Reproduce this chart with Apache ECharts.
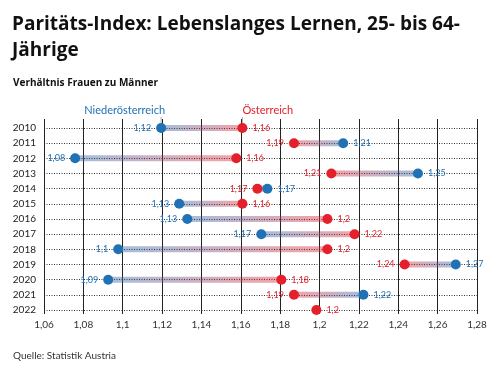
<!DOCTYPE html>
<html>
<head>
<meta charset="utf-8">
<script src="https://cdn.jsdelivr.net/npm/echarts@6/dist/echarts.min.js"></script>
<style>html,body{margin:0;padding:0;background:#fff}#c{width:500px;height:369px}</style>
</head>
<body>
<div id="c"></div>
<script>
const years = ['2010','2011','2012','2013','2014','2015','2016','2017','2018','2019','2020','2021','2022'];
const niederoesterreich = [1.1195,1.212,1.0758,1.250,1.1735,1.1287,1.1328,1.1704,1.0977,1.2692,1.0926,1.2223,null];
const oesterreich = [1.1608,1.187,1.1577,1.206,1.1684,1.1608,1.204,1.2178,1.204,1.2432,1.1806,1.187,1.1984];
const xTicks = {min:1.06, max:1.28, interval:0.02};

const BLUE = '#2171b5';
const RED = '#e3202b';
const FONT = 'Lato, "Noto Sans", sans-serif';
const TFONT = '"Open Sans", Lato, sans-serif';
const fmt = v => String(Math.round(v*100)/100).replace('.', ',');

const barData = [];
years.forEach((y,i)=>{
  if (niederoesterreich[i] != null && oesterreich[i] != null) barData.push([niederoesterreich[i], oesterreich[i], i]);
});

function pointData(vals, others){
  const out = [];
  vals.forEach((v,i)=>{
    if (v == null) return;
    const o = others[i];
    const pos = (o == null || v >= o) ? 'right' : 'left';
    out.push({value:[v, years[i]], label:{position:pos}});
  });
  return out;
}

const chart = echarts.init(document.getElementById('c'), null, {renderer:'canvas'});
chart.setOption({
  animation:false,
  textStyle:{fontFamily:FONT},
  title:[
    {text:'Paritäts-Index: Lebenslanges Lernen, 25- bis 64-\nJährige', left:7, top:7,
     textStyle:{fontFamily:TFONT, fontSize:19, fontWeight:'bold', color:'#111', lineHeight:26}},
    {text:'Verhältnis Frauen zu Männer', left:8, top:73,
     textStyle:{fontFamily:TFONT, fontSize:10, fontWeight:'bold', color:'#111'}},
    {text:'Quelle: Statistik Austria', left:8, top:346,
     textStyle:{fontFamily:FONT, fontSize:10, fontWeight:'normal', color:'#333'}}
  ],
  grid:[
    {left:44, right:23, top:128, bottom:59},
    {left:44, right:23, top:119, bottom:55}
  ],
  xAxis:[
    {gridIndex:0, type:'value', min:xTicks.min, max:xTicks.max, interval:xTicks.interval,
     axisLine:{show:false}, axisTick:{show:false}, axisLabel:{show:false}, splitLine:{show:false}},
    {gridIndex:1, type:'value', min:xTicks.min, max:xTicks.max, interval:xTicks.interval,
     axisLine:{show:false}, axisTick:{show:false},
     axisLabel:{show:true, margin:6, fontSize:10, color:'#333', fontFamily:FONT, formatter:fmt,
       showMinLabel:true, showMaxLabel:true},
     splitLine:{show:true, lineStyle:{color:'#222', width:1}}}
  ],
  yAxis:[
    {gridIndex:0, type:'category', data:years, inverse:true, boundaryGap:false,
     axisLine:{show:false}, axisTick:{show:false},
     axisLabel:{margin:8, fontSize:10, color:'#222', fontFamily:FONT},
     splitLine:{show:true, lineStyle:{color:'#333', width:1, type:[1,1.5]}}},
    {gridIndex:1, type:'value', show:false}
  ],
  series:[
    {type:'custom', xAxisIndex:0, yAxisIndex:0, z:2, data:barData,
     encode:{x:[0,1], y:2},
     renderItem:function(params, api){
       const a = api.coord([api.value(0), api.value(2)]);
       const b = api.coord([api.value(1), api.value(2)]);
       const x0 = Math.min(a[0], b[0]), x1 = Math.max(a[0], b[0]);
       const h = 6;
       return {type:'rect', shape:{x:x0, y:a[1]-h/2, width:Math.max(x1-x0,0.1), height:h},
         style:{fill:{type:'linear', x:a[0], y:0, x2:b[0] === a[0] ? a[0]+1 : b[0], y2:0, global:true,
           colorStops:[{offset:0, color:'rgba(40,100,170,0.42)'},{offset:1, color:'rgba(225,35,45,0.42)'}]}}};
     }},
    {type:'scatter', name:'Niederösterreich', xAxisIndex:0, yAxisIndex:0, z:4, symbolSize:10,
     itemStyle:{color:BLUE, opacity:1},
     label:{show:true, color:BLUE, fontSize:9, distance:5, fontFamily:FONT, formatter:p=>fmt(p.value[0])},
     data:pointData(niederoesterreich, oesterreich),
     markPoint:{symbol:'rect', symbolSize:[1,6], symbolOffset:[0,-8], silent:true,
       itemStyle:{color:'#aaa'},
       label:{show:true, position:'top', distance:1, align:'right', offset:[4,0], color:BLUE, fontSize:11, fontFamily:FONT, formatter:'Niederösterreich'},
       data:[{coord:[niederoesterreich[0], years[0]]}]}},
    {type:'scatter', name:'Österreich', xAxisIndex:0, yAxisIndex:0, z:5, symbolSize:10,
     itemStyle:{color:RED, opacity:1},
     label:{show:true, color:RED, fontSize:9, distance:5, fontFamily:FONT, formatter:p=>fmt(p.value[0])},
     data:pointData(oesterreich, niederoesterreich),
     markPoint:{symbol:'rect', symbolSize:[1,6], symbolOffset:[0,-8], silent:true,
       itemStyle:{color:'#aaa'},
       label:{show:true, position:'top', distance:1, align:'left', offset:[0,0], color:RED, fontSize:11, fontFamily:FONT, formatter:'Österreich'},
       data:[{coord:[oesterreich[0], years[0]]}]}}
  ]
});
</script>
</body>
</html>
